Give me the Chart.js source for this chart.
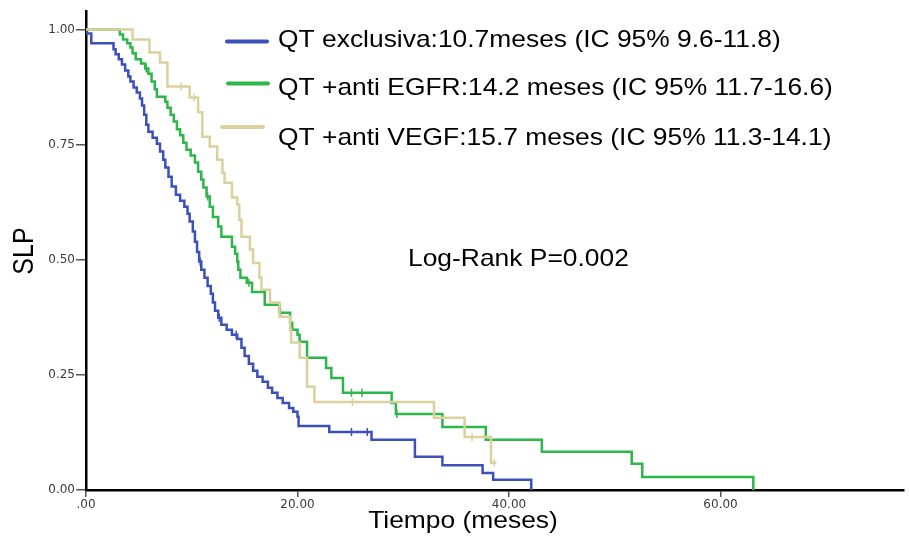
<!DOCTYPE html>
<html>
<head>
<meta charset="utf-8">
<script src="https://cdn.jsdelivr.net/npm/chart.js@4.4.1/dist/chart.umd.min.js"></script>
<style>
  html, body { margin: 0; padding: 0; background: #fff; }
  #wrap { width: 909px; height: 536px; }
</style>
</head>
<body>
<div id="wrap"><canvas id="km" width="909" height="536"></canvas></div>
<script>
// Kaplan-Meier steps: time (months) -> survival after the drop
const blueT = [0.1, 0.5, 2.6, 2.8, 3.1, 3.4, 3.7, 4.0, 4.2, 4.5,
               4.8, 5.1, 5.3, 5.5, 5.7, 5.9, 6.3, 6.7, 7.0, 7.3,
               7.5, 7.8, 8.1, 8.5, 8.9, 9.3, 9.6, 9.8, 10.1, 10.3,
               10.5, 10.7, 10.9, 11.2, 11.5, 11.8, 12.0, 12.2, 12.5, 12.8,
               13.3, 13.8, 14.3, 14.7, 15.0, 15.4, 15.8, 16.2, 16.7, 17.2,
               17.6, 18.1, 18.6, 19.2, 19.6, 20.0, 20.1, 23.0, 27.0, 31.1,
               33.7, 37.5, 38.5, 42.1];
const blueS = [.991, .970, .957, .946, .935, .924, .911, .898, .887, .874,
               .863, .850, .835, .815, .793, .778, .765, .752, .735, .717,
               .700, .680, .659, .641, .628, .615, .600, .583, .561, .539,
               .517, .496, .478, .461, .443, .426, .407, .389, .374, .359,
               .348, .337, .328, .309, .291, .274, .259, .246, .235, .222,
               .211, .200, .189, .178, .170, .159, .139, .126, .109, .072,
               .054, .037, .022, 0];

const greenT = [3.2, 3.5, 3.9, 4.2, 4.4, 4.7, 5.2, 5.6, 5.9, 6.2,
                6.5, 6.7, 7.5, 7.7, 8.0, 8.3, 8.6, 8.9, 9.2, 9.5,
                9.9, 10.3, 10.6, 10.9, 11.1, 11.4, 11.7, 12.0, 12.5, 12.8,
                13.8, 14.1, 14.3, 14.4, 14.6, 15.2, 15.7, 16.9, 18.3, 19.3,
                19.5, 20.0, 20.2, 20.9, 22.7, 23.2, 24.3, 28.9, 29.3, 33.7,
                37.8, 43.1, 51.6, 52.6, 63.1];
const greenS = [.989, .978, .970, .961, .948, .935, .926, .915, .904, .887,
                .870, .854, .843, .830, .815, .800, .783, .770, .754, .739,
                .726, .711, .691, .674, .657, .637, .615, .593, .572, .550,
                .528, .513, .496, .478, .461, .450, .430, .402, .385, .363,
                .348, .337, .322, .287, .265, .243, .211, .189, .165, .137,
                .109, .083, .057, .028, 0];

const tanT = [4.4, 6.0, 7.0, 7.7, 9.8, 10.6, 11.0, 11.7, 12.4, 12.9,
              13.1, 13.8, 14.3, 14.5, 14.7, 15.5, 15.8, 16.4, 16.6, 17.4,
              18.3, 19.3, 19.4, 20.2, 20.9, 21.6, 32.9, 35.8, 38.3, 38.8];
const tanS = [.978, .950, .928, .876, .852, .820, .767, .746, .717, .689,
              .667, .635, .620, .587, .550, .522, .493, .461, .435, .407,
              .376, .348, .320, .287, .224, .191, .157, .115, .059, .059];

// censored cases (small vertical ticks on the curves)
const blueCensT = [10.8, 12.6, 14.2, 25.1, 26.6];
const blueCensS = [.496, .374, .337, .126, .126];
const greenCensT = [5.7, 11.5, 15.4, 18.4, 25.1, 26.1, 29.4];
const greenCensS = [.915, .637, .450, .385, .211, .211, .165];
const tanCensT = [9.0, 10.2, 25.2, 36.5, 38.6];
const tanCensS = [.876, .852, .191, .115, .059];

const legendLabels = [
  'QT exclusiva:10.7meses (IC 95% 9.6-11.8)',
  'QT +anti EGFR:14.2 meses (IC 95% 11.7-16.6)',
  'QT +anti VEGF:15.7 meses (IC 95% 11.3-14.1)'
];
const xTicks = [0, 20, 40, 60];
const yTicks = [0, 0.25, 0.5, 0.75, 1];

const BLUE = '#3b50bb';
const GREEN = '#2db64a';
const TAN = '#dbd19d';
const FONT = '"Liberation Sans", Arial, sans-serif';
const TICK_FONT = '"DejaVu Sans", sans-serif';

function steps(ts, ss) {
  const pts = [{ x: 0, y: 1 }];
  ts.forEach((t, i) => pts.push({ x: t, y: ss[i] }));
  return pts;
}

function marks(ts, ss) {
  return ts.map((t, i) => ({ x: t, y: ss[i] }));
}

function curve(ts, ss, color) {
  return {
    data: steps(ts, ss),
    borderColor: color,
    borderWidth: 2.5,
    stepped: 'before',
    pointRadius: 0,
    fill: false
  };
}

function censors(ts, ss, color) {
  return {
    type: 'scatter',
    data: marks(ts, ss),
    borderColor: color,
    backgroundColor: color,
    pointStyle: 'line',
    rotation: 90,
    pointRadius: 4,
    borderWidth: 1.5
  };
}

// draws text slightly stretched, like the original export
function stretchText(ctx, s, x, y, size, sx, align, sy) {
  ctx.save();
  ctx.font = size + 'px ' + FONT;
  ctx.textAlign = align || 'left';
  ctx.textBaseline = 'alphabetic';
  ctx.translate(x, y);
  ctx.scale(sx, sy || 1);
  ctx.fillText(s, 0, 0);
  ctx.restore();
}

const overlay = {
  id: 'overlay',
  afterDraw(chart) {
    const ctx = chart.ctx;
    ctx.save();
    ctx.fillStyle = '#000';
    ctx.lineCap = 'round';

    // legend
    const rows = [
      { color: BLUE, x0: 227, x1: 267, ly: 41.5, ty: 47 },
      { color: GREEN, x0: 228, x1: 268, ly: 83.5, ty: 95 },
      { color: TAN, x0: 222, x1: 263, ly: 127, ty: 145 }
    ];
    rows.forEach((r, i) => {
      ctx.strokeStyle = r.color;
      ctx.lineWidth = 4;
      ctx.beginPath();
      ctx.moveTo(r.x0, r.ly);
      ctx.lineTo(r.x1, r.ly);
      ctx.stroke();
      stretchText(ctx, legendLabels[i], 278, r.ty, 24, 1.1);
    });

    stretchText(ctx, 'Log-Rank P=0.002', 408, 266, 24, 1.1);
    stretchText(ctx, 'Tiempo (meses)', 463, 528, 24, 1.1, 'center');

    // y title, rotated
    ctx.save();
    ctx.translate(33, 251);
    ctx.rotate(-Math.PI / 2);
    stretchText(ctx, 'SLP', 0, 0, 25, 1.0, 'center', 1.15);
    ctx.restore();

    ctx.restore();
  }
};

new Chart(document.getElementById('km'), {
  type: 'line',
  data: {
    datasets: [
      curve(tanT, tanS, TAN),
      curve(greenT, greenS, GREEN),
      curve(blueT, blueS, BLUE),
      censors(tanCensT, tanCensS, TAN),
      censors(greenCensT, greenCensS, GREEN),
      censors(blueCensT, blueCensS, BLUE)
    ]
  },
  options: {
    responsive: false,
    devicePixelRatio: 1,
    animation: false,
    layout: { padding: { left: 0, right: 4, top: 11, bottom: 0 } },
    plugins: {
      legend: { display: false },
      tooltip: { enabled: false }
    },
    scales: {
      x: {
        type: 'linear',
        min: 0,
        max: 77.3,
        afterFit: (s) => { s.height = 46; },
        afterBuildTicks: (s) => { s.ticks = xTicks.map(v => ({ value: v })); },
        ticks: {
          autoSkip: false,
          maxRotation: 0,
          padding: 1,
          color: '#3a3a3a',
          font: { family: TICK_FONT, size: 12 },
          callback: (v) => v === 0 ? '.00' : v.toFixed(2)
        },
        grid: { display: true, drawOnChartArea: false, tickLength: 7, color: '#555', lineWidth: 1.5 },
        border: { display: true, color: '#000', width: 2.5 }
      },
      y: {
        min: 0,
        max: 1.04,
        afterFit: (s) => { s.width = 86; },
        afterBuildTicks: (s) => { s.ticks = yTicks.map(v => ({ value: v })); },
        ticks: {
          padding: 1,
          color: '#3a3a3a',
          font: { family: TICK_FONT, size: 12 },
          callback: (v) => v.toFixed(2)
        },
        grid: { display: true, drawOnChartArea: false, tickLength: 10, color: '#555', lineWidth: 1.5 },
        border: { display: true, color: '#000', width: 2.5 }
      }
    }
  },
  plugins: [overlay]
});
</script>
</body>
</html>
